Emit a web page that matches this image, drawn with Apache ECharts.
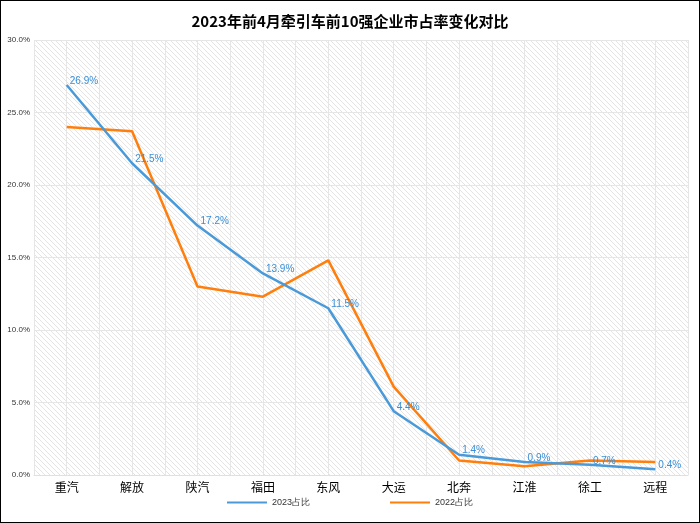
<!DOCTYPE html>
<html lang="en">
<head>
<meta charset="UTF-8" />
<title>牵引车市占率</title>
<style>
  html, body { margin: 0; padding: 0; background: #fff; }
  #chart { width: 698px; height: 521px; border: 1px solid #000; }
</style>
</head>
<body>
<div id="chart"></div>
<script src="https://cdn.jsdelivr.net/npm/echarts@6/dist/echarts.min.js"></script>
<script>
const categories = ['重汽', '解放', '陕汽', '福田', '东风', '大运', '北奔', '江淮', '徐工', '远程'];
const share2023 = [26.9, 21.5, 17.2, 13.9, 11.5, 4.4, 1.4, 0.9, 0.7, 0.4];
const share2022 = [24.0, 23.7, 13.0, 12.3, 14.8, 6.1, 1.0, 0.6, 1.0, 0.9];

// diagonal hatch for the plot background
const tile = document.createElement('canvas');
tile.width = 5; tile.height = 5;
const g = tile.getContext('2d');
g.fillStyle = '#fff';
g.fillRect(0, 0, 5, 5);
g.strokeStyle = '#e4e4e4';
g.lineWidth = 1;
g.beginPath();
g.moveTo(0, 0); g.lineTo(5, 5);
g.moveTo(-3, 2); g.lineTo(2, 7);
g.moveTo(2, -3); g.lineTo(7, 2);
g.stroke();

const chart = echarts.init(document.getElementById('chart'));
chart.setOption({
  animation: false,
  title: {
    text: '2023年前4月牵引车前10强企业市占率变化对比',
    left: 'center', top: 8,
    textStyle: { fontSize: 15, fontWeight: 'bold', color: '#000', fontFamily: 'Noto Sans CJK SC' }
  },
  legend: {
    top: 492, itemGap: 80, itemWidth: 40, itemHeight: 2, icon: 'rect',
    textStyle: { fontSize: 9, color: '#333' },
    data: ['2023占比', '2022占比']
  },
  grid: {
    left: 33, right: 11, top: 39, bottom: 47,
    show: true, borderWidth: 0,
    backgroundColor: { image: tile, repeat: 'repeat' }
  },
  xAxis: [{
    type: 'category', data: categories,
    axisLine: { lineStyle: { color: '#e0e0e0' } },
    axisTick: { show: false },
    axisLabel: { color: '#000', fontSize: 12, margin: 6, fontFamily: 'Noto Sans CJK SC' }
  }, {
    type: 'value', min: 0, max: 20, interval: 1, show: true, position: 'bottom',
    axisLine: { show: false }, axisTick: { show: false }, axisLabel: { show: false },
    splitLine: { lineStyle: { color: '#e6e6e6' } }
  }],
  yAxis: {
    type: 'value', min: 0, max: 30, interval: 5,
    axisLine: { show: false }, axisTick: { show: false },
    axisLabel: { formatter: v => v.toFixed(1) + '%', fontSize: 8, color: '#333', margin: 4 },
    splitLine: { lineStyle: { color: '#e6e6e6' } }
  },
  series: [{
    name: '2023占比', type: 'line', data: share2023, xAxisIndex: 0,
    symbol: 'circle', symbolSize: 0.1, lineStyle: { width: 2.5, color: '#4a9ad9' }, itemStyle: { color: '#4a9ad9' },
    label: { show: true, position: 'right', offset: [-2, -4], color: '#3a8fd6', fontSize: 10, formatter: p => p.value.toFixed(1) + '%' },
    z: 3
  }, {
    name: '2022占比', type: 'line', data: share2022, xAxisIndex: 0,
    symbol: 'none', lineStyle: { width: 2.5, color: '#ff7f0e' }, itemStyle: { color: '#ff7f0e' },
    z: 2
  }]
});
</script>
</body>
</html>
